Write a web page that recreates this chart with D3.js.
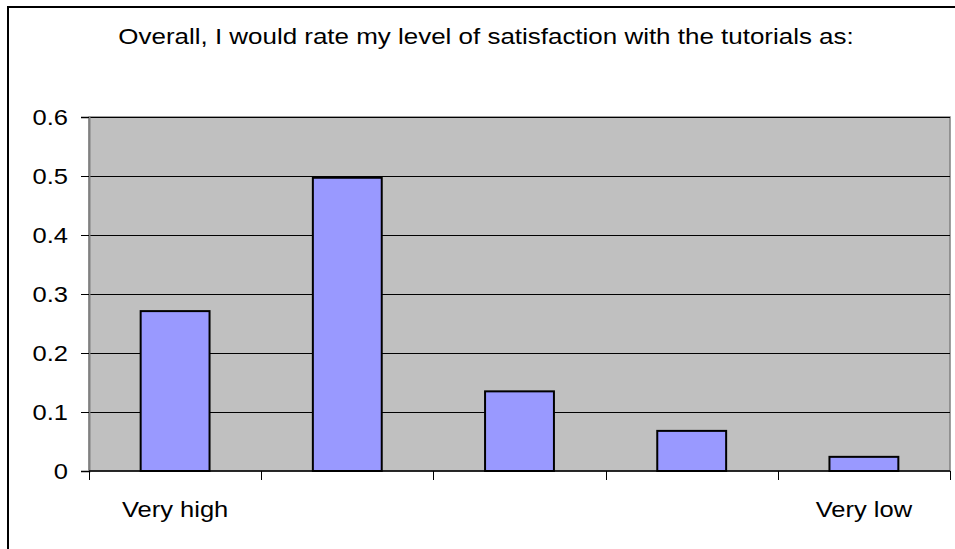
<!DOCTYPE html>
<html>
<head>
<meta charset="utf-8">
<script src="https://cdn.jsdelivr.net/npm/d3@7"></script>
<style>
  html, body { margin: 0; padding: 0; background: #fff; }
  svg { display: block; }
  text { font-family: "Liberation Sans", Arial, sans-serif; fill: #000; }
</style>
</head>
<body>
<svg id="chart" width="955" height="549"></svg>
<script>
const title = "Overall, I would rate my level of satisfaction with the tutorials as:";
const categories = ["Very high", "High", "Neutral", "Low", "Very low"];
const categoryLabels = ["Very high", "", "", "", "Very low"];
const values = [0.271, 0.497, 0.135, 0.068, 0.024];
const yTicks = [0, 0.1, 0.2, 0.3, 0.4, 0.5, 0.6];

const svg = d3.select("#chart");
const W = 955, H = 549;
const plot = { left: 89, right: 950, top: 117, bottom: 471 };
const sx = 1.16; // horizontal stretch of the original rendering
const fontSize = 22;

// outer chart border
svg.append("rect")
  .attr("x", 8).attr("y", 7)
  .attr("width", W + 20).attr("height", H + 20)
  .attr("fill", "#fff").attr("stroke", "#000").attr("stroke-width", 2);

// title
svg.append("text")
  .attr("transform", `translate(486,44) scale(1.18,1)`)
  .attr("text-anchor", "middle")
  .style("font-size", fontSize + "px")
  .text(title);

const x = d3.scaleBand().domain(categories).range([plot.left, plot.right]).padding(0);
const y = d3.scaleLinear().domain([0, 0.6]).range([plot.bottom, plot.top]);

// plot area
svg.append("rect")
  .attr("x", plot.left).attr("y", plot.top)
  .attr("width", plot.right - plot.left).attr("height", plot.bottom - plot.top)
  .attr("fill", "#C0C0C0").attr("stroke", "#808080").attr("stroke-width", 1.5);

// gridlines
svg.append("g").selectAll("line")
  .data(yTicks.filter(d => d > 0))
  .join("line")
  .attr("x1", plot.left).attr("x2", plot.right)
  .attr("y1", d => Math.round(y(d)) + 0.5).attr("y2", d => Math.round(y(d)) + 0.5)
  .attr("stroke", "#000").attr("stroke-width", 1);

// bars
const bw = x.bandwidth() * 0.4;
svg.append("g").selectAll("rect")
  .data(values)
  .join("rect")
  .attr("x", (d, i) => x(categories[i]) + x.bandwidth() / 2 - bw / 2)
  .attr("y", d => y(d))
  .attr("width", bw)
  .attr("height", d => y(0) - y(d))
  .attr("fill", "#9999FF")
  .attr("stroke", "#000")
  .attr("stroke-width", 2);

// y axis
const yAxis = svg.append("g")
  .attr("transform", `translate(${plot.left},0)`)
  .call(d3.axisLeft(y).tickValues(yTicks).tickSize(8).tickPadding(12)
    .tickFormat(d => d === 0 ? "0" : d3.format(".1f")(d)));
yAxis.select(".domain").attr("stroke", "#808080").attr("stroke-width", 2);
yAxis.selectAll(".tick line").attr("stroke", "#000");
yAxis.selectAll(".tick text")
  .style("font-size", fontSize + "px")
  .style("font-family", '"Liberation Sans", Arial, sans-serif')
  .attr("fill", "#000")
  .attr("dy", "0.35em")
  .attr("x", -21)
  .attr("transform", `translate(-21,0) scale(${sx},1) translate(21,0)`);

// x axis
const xAxisG = svg.append("g").attr("transform", `translate(0,${plot.bottom})`);
xAxisG.append("line")
  .attr("x1", plot.left).attr("x2", plot.right)
  .attr("y1", 0).attr("y2", 0)
  .attr("stroke", "#000").attr("stroke-width", 1.5);
const bounds = categories.map(c => x(c)).concat([plot.right]);
xAxisG.selectAll("line.tick")
  .data(bounds)
  .join("line")
  .attr("class", "tick")
  .attr("x1", d => Math.round(d) + 0.5).attr("x2", d => Math.round(d) + 0.5)
  .attr("y1", 0).attr("y2", 9)
  .attr("stroke", "#000");
xAxisG.selectAll("text")
  .data(categories)
  .join("text")
  .attr("transform", (d, i) => `translate(${x(d) + x.bandwidth() / 2},46) scale(${sx},1)`)
  .attr("text-anchor", "middle")
  .style("font-size", fontSize + "px")
  .text((d, i) => categoryLabels[i]);
</script>
</body>
</html>
